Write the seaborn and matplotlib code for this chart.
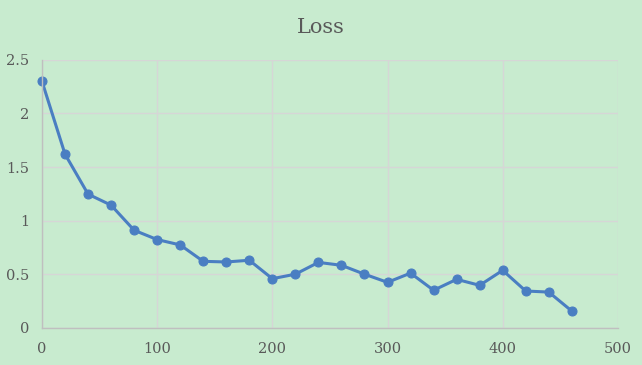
import numpy as np
import pandas as pd
import matplotlib
matplotlib.use("Agg")
import matplotlib.pyplot as plt
import seaborn as sns

# values
steps = [0, 20, 40, 60, 80, 100, 120, 140, 160, 180, 200, 220, 240,
         260, 280, 300, 320, 340, 360, 380, 400, 420, 440, 460]
loss = [2.30, 1.62, 1.247, 1.144, 0.91, 0.823, 0.773, 0.62, 0.614, 0.63, 0.458, 0.50, 0.61,
        0.583, 0.50, 0.424, 0.51, 0.35, 0.452, 0.396, 0.536, 0.343, 0.333, 0.156]
x_ticks = [0, 100, 200, 300, 400, 500]
y_ticks = [0, 0.5, 1, 1.5, 2, 2.5]
y_labels = ["0", "0.5", "1", "1.5", "2", "2.5"]

bg = "#C8EBCF"
sns.set_theme(style="whitegrid", rc={
    "axes.facecolor": bg,
    "figure.facecolor": bg,
    "grid.color": "#D6D6D6",
    "grid.linewidth": 1.0,
    "axes.edgecolor": "#BFBFBF",
})
plt.rcParams['font.family'] = ['DejaVu Serif']

df = pd.DataFrame({"step": steps, "loss": loss})

fig = plt.figure(figsize=(6.42, 3.65), dpi=100)
ax = fig.add_axes([0.0654, 0.102, 0.897, 0.734])

sns.lineplot(data=df, x="step", y="loss", ax=ax, color="#4A7EC2",
             linewidth=2.2, marker="o", markersize=6.5,
             markeredgecolor="#4A7EC2", markerfacecolor="#4A7EC2")
for ln in ax.lines:
    ln.set_clip_on(False)

ax.set_xlim(0, 500)
ax.set_ylim(0, 2.5)
ax.set_xticks(x_ticks)
ax.set_yticks(y_ticks)
ax.set_yticklabels(y_labels)
ax.tick_params(axis="both", labelsize=10.5, colors="#595959", length=0)
ax.tick_params(axis="y", pad=9)
ax.tick_params(axis="x", pad=10)
ax.set_xlabel("")
ax.set_ylabel("")
for side in ["top", "right"]:
    ax.spines[side].set_visible(False)
for side in ["left", "bottom"]:
    ax.spines[side].set_color("#BFBFBF")
    ax.spines[side].set_linewidth(1)

fig.suptitle("Loss", y=0.95, fontsize=15, color="#595959")

fig.savefig("out.png", dpi=100, facecolor=bg)
